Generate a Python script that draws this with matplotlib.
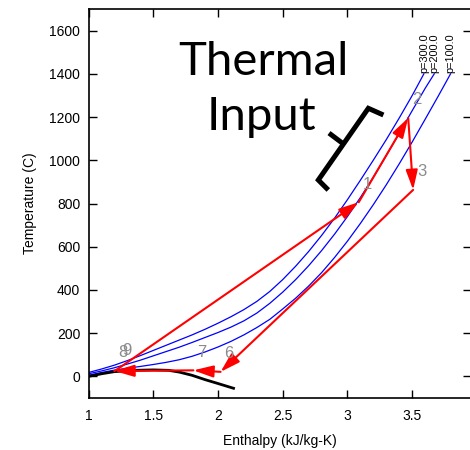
import matplotlib.pyplot as plt
import numpy as np

plt.rcParams['font.family'] = ['Liberation Sans', 'DejaVu Sans']

# isobars
p300_h = [1.0, 1.1, 1.2, 1.3, 1.4, 1.5, 1.6, 1.7, 1.8, 1.9, 2.0, 2.1, 2.2, 2.3, 2.4, 2.5,
          2.6, 2.7, 2.8, 2.9, 3.0, 3.1, 3.2, 3.3, 3.4, 3.5, 3.59]
p300_T = [18, 34, 52, 73, 96, 120, 144, 168, 192, 218, 246, 276, 309, 347, 393, 448,
          510, 578, 652, 732, 818, 908, 1001, 1096, 1196, 1300, 1400]
p200_h = [1.0, 1.1, 1.2, 1.3, 1.4, 1.5, 1.6, 1.7, 1.8, 1.9, 2.0, 2.1, 2.2, 2.3, 2.4, 2.5,
          2.6, 2.7, 2.8, 2.9, 3.0, 3.1, 3.2, 3.3, 3.4, 3.5, 3.6, 3.67]
p200_T = [12, 25, 40, 57, 75, 95, 115, 135, 157, 180, 203, 228, 257, 293, 338, 390,
          448, 512, 582, 658, 740, 828, 922, 1022, 1125, 1230, 1333, 1400]
p100_h = [1.0, 1.1, 1.2, 1.3, 1.4, 1.5, 1.6, 1.7, 1.8, 1.9, 2.0, 2.1, 2.2, 2.3, 2.4, 2.5,
          2.6, 2.7, 2.8, 2.9, 3.0, 3.1, 3.2, 3.3, 3.4, 3.5, 3.6, 3.7, 3.796]
p100_T = [5, 18, 29, 38, 46, 55, 65, 77, 93, 113, 136, 162, 192, 226, 264, 312,
          362, 418, 480, 550, 626, 708, 795, 887, 984, 1085, 1190, 1296, 1400]
isobar_labels = ['p=300.0', 'p=200.0', 'p=100.0']

# saturation dome
sat_h = [1.0, 1.1, 1.2, 1.35, 1.5, 1.62, 1.7, 1.8, 1.9, 2.0, 2.12]
sat_T = [0, 12, 22, 28, 30, 28, 20, 5, -15, -33, -55]

# cycle state points
state_id = ['1', '2', '3', '6', '7', '8', '9']
state_h = [3.087, 3.469, 3.507, 2.02, 1.81, 1.20, 1.23]
state_T = [806, 1196, 863, 21, 28, 25, 36]

fig = plt.figure(figsize=(4.7, 4.5), dpi=100)
ax = fig.add_axes([88.5/470, 52/450, 382/470, 389/450])

curves = [(p300_h, p300_T), (p200_h, p200_T), (p100_h, p100_T)]
for (h, T), lab in zip(curves, isobar_labels):
    ax.plot(h, T, color='#0000ff', lw=0.9)
    ax.text(h[-1], T[-1] + 5, lab, rotation=90, ha='center', va='bottom', fontsize=7.8)

ax.plot(sat_h, sat_T, color='black', lw=2)

# cycle arrows
arrow_kw = dict(arrowstyle='-|>,head_length=0.6,head_width=0.18', mutation_scale=20,
                color='#ff0000', lw=1.5, shrinkA=0, shrinkB=0)
n = len(state_id)
for i in range(n):
    j = (i + 1) % n
    if state_id[i] == '8':
        ax.plot([state_h[i], state_h[j]], [state_T[i], state_T[j]], color='#ff0000', lw=1.5)
        continue
    ax.annotate('', xy=(state_h[j], state_T[j]), xytext=(state_h[i], state_T[i]),
                arrowprops=arrow_kw)

for sid, h, T in zip(state_id, state_h, state_T):
    ax.annotate(sid, xy=(h, T), xytext=(6, 13), textcoords='offset points',
                ha='center', va='center', fontsize=12, color='#8c8c8c')

# "Thermal Input" note with bracket
ax.text(0.458, 0.830, 'Thermal', transform=ax.transAxes, ha='center', va='baseline',
        fontsize=34, family='Lato')
ax.text(0.454, 0.689, 'Input', transform=ax.transAxes, ha='center', va='baseline',
        fontsize=34, family='Lato')
br_x = [0.772, 0.7325, 0.6016, 0.6277]
br_y = [0.7275, 0.7447, 0.5604, 0.5347]
ax.plot(br_x, br_y, transform=ax.transAxes, color='black', lw=3.6,
        solid_joinstyle='miter', solid_capstyle='butt')
ax.plot([0.6675, 0.6296], [0.653, 0.681], transform=ax.transAxes, color='black', lw=3.6,
        solid_capstyle='butt')

ax.set_xlim(1, 3.95)
ax.set_ylim(-100, 1700)
ax.set_xticks([1, 1.5, 2, 2.5, 3, 3.5])
ax.set_xticklabels(['1', '1.5', '2', '2.5', '3', '3.5'])
ax.set_yticks(np.arange(0, 1601, 200))
ax.tick_params(direction='in', length=6, width=1, top=True, right=True,
               labelsize=10, pad=6)
ax.tick_params(axis='x', pad=8)
for s in ax.spines.values():
    s.set_linewidth(1.2)
ax.set_xlabel('Enthalpy (kJ/kg-K)', fontsize=10, labelpad=8)
ax.set_ylabel('Temperature (C)', fontsize=10, labelpad=9)

fig.savefig('out.png', dpi=100)
